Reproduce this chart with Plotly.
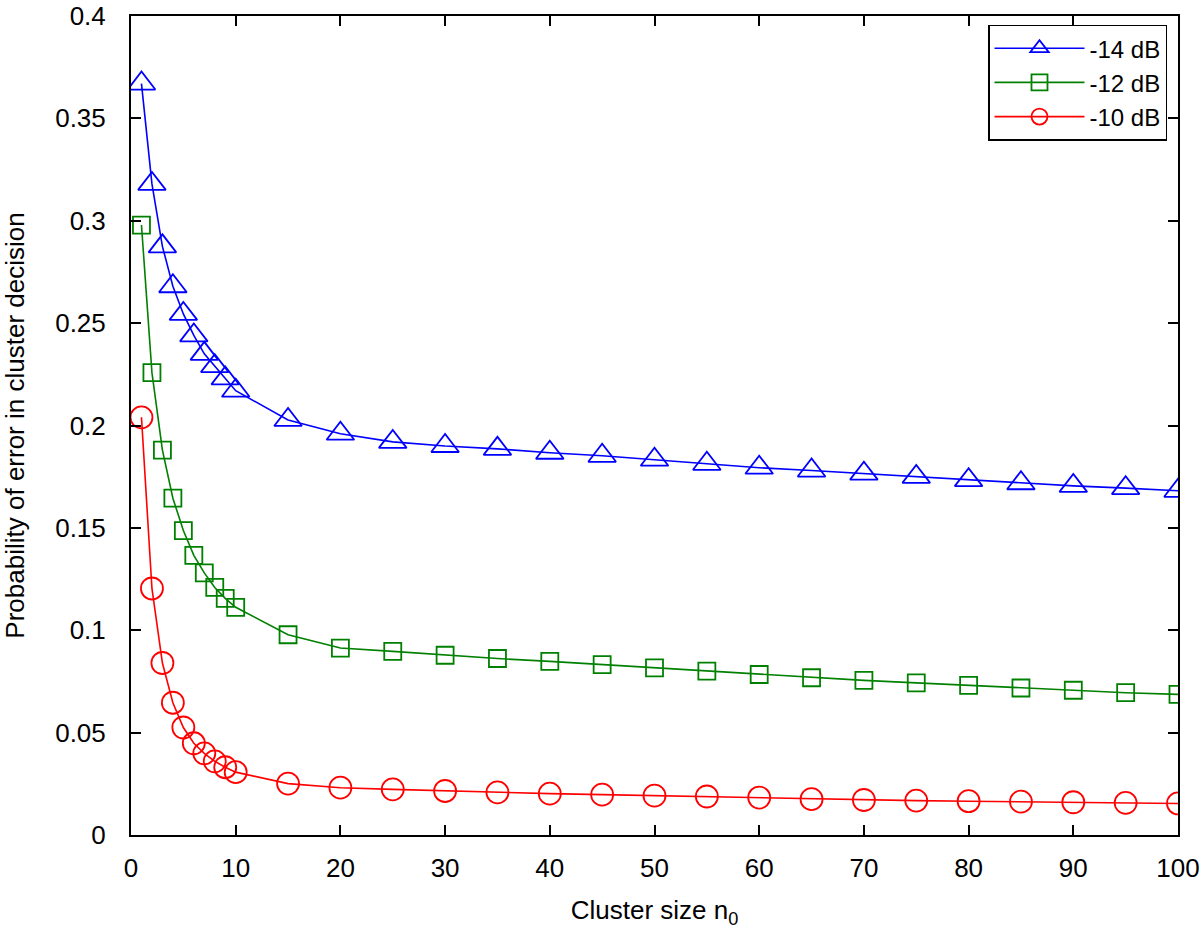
import plotly.graph_objects as go

cluster_size = [1, 2, 3, 4, 5, 6, 7, 8, 9, 10, 15, 20, 25, 30, 35, 40, 45, 50,
                55, 60, 65, 70, 75, 80, 85, 90, 95, 100]

p_minus14 = [0.367, 0.318, 0.2875, 0.268, 0.2545, 0.244, 0.235, 0.229, 0.223, 0.217,
             0.2027, 0.196, 0.192, 0.190, 0.1886, 0.1867, 0.1852, 0.1833, 0.1813,
             0.1794, 0.178, 0.1765, 0.1749, 0.1733, 0.1718, 0.1705, 0.1694, 0.1681]

p_minus12 = [0.2979, 0.2258, 0.188, 0.1645, 0.1487, 0.1366, 0.128, 0.1209, 0.1156, 0.1112,
             0.0978, 0.0913, 0.0897, 0.0878, 0.0862, 0.0848, 0.0832, 0.0816, 0.0800,
             0.0784, 0.0768, 0.0755, 0.0743, 0.0731, 0.0718, 0.0707, 0.0695, 0.0687]

p_minus10 = [0.204, 0.1204, 0.084, 0.0646, 0.0525, 0.0448, 0.0399, 0.036, 0.0331, 0.0307,
             0.0251, 0.0231, 0.0223, 0.0215, 0.0208, 0.0202, 0.0197, 0.0192, 0.0188,
             0.0183, 0.0175, 0.0171, 0.0168, 0.0165, 0.0163, 0.0160, 0.0157, 0.0154]

series = [
    ("-14 dB", p_minus14, "rgb(0,0,255)", "triangle-up-open", 24),
    ("-12 dB", p_minus12, "rgb(0,128,0)", "square-open", 17),
    ("-10 dB", p_minus10, "rgb(255,0,0)", "circle-open", 22),
]

x_ticks = [0, 10, 20, 30, 40, 50, 60, 70, 80, 90, 100]
y_ticks = [0, 0.05, 0.1, 0.15, 0.2, 0.25, 0.3, 0.35, 0.4]
y_tick_labels = ["0", "0.05", "0.1", "0.15", "0.2", "0.25", "0.3", "0.35", "0.4"]

FONT = "Liberation Sans, Arial, Helvetica, sans-serif"
FS = 26

fig = go.Figure()
for name, vals, color, sym, size in series:
    fig.add_trace(go.Scatter(
        x=cluster_size, y=vals, name=name, mode="lines+markers",
        line=dict(color=color, width=1.6),
        marker=dict(symbol=sym, size=size, color=color, line=dict(width=1.8, color=color)),
    ))

axis_common = dict(
    showline=True, linecolor="black", linewidth=2, mirror="ticks",
    ticks="inside", ticklen=10, tickwidth=2, tickcolor="black",
    showgrid=False, zeroline=False, ticklabeloverflow="allow",
    tickfont=dict(family=FONT, size=FS, color="black"),
)

fig.update_layout(
    width=1200, height=936,
    paper_bgcolor="white", plot_bgcolor="white",
    margin=dict(l=131, r=22, t=16, b=101, autoexpand=False),
    font=dict(family=FONT, size=FS, color="black"),
    xaxis=dict(range=[0, 100], tickvals=x_ticks, ticklabelstandoff=9,
               title=dict(text="Cluster size n<sub>0</sub>", standoff=19,
                          font=dict(family=FONT, size=FS)),
               **axis_common),
    yaxis=dict(range=[0, 0.4], tickvals=y_ticks, ticktext=y_tick_labels, ticklabelstandoff=18,
               title=dict(text="Probability of error in cluster decision", standoff=41,
                          font=dict(family=FONT, size=FS)),
               **axis_common),
    legend=dict(x=0.9895, y=0.9895, xanchor="right", yanchor="top",
                bgcolor="white", bordercolor="black", borderwidth=1.5,
                font=dict(family=FONT, size=24), itemwidth=90,
                tracegroupgap=0),
    showlegend=True,
)

# remove the default 8px page margin so the figure fills the 1200x936 window exactly
fig.write_html("out.html", config={"displayModeBar": False},
               post_script="document.body.style.margin='0px';")
